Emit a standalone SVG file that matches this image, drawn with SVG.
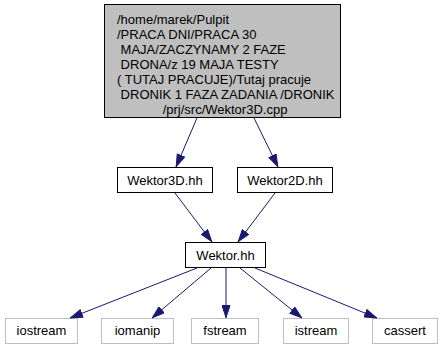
<svg xmlns="http://www.w3.org/2000/svg" width="443" height="349" viewBox="0 0 443 349">
  <style>
    text { font-family: "Liberation Sans", Arial, sans-serif; font-size: 13px; fill: #000; }
    .c { text-anchor: middle; }
    .main rect { fill: #bfbfbf; stroke: #000; stroke-width: 1; }
    .hdr rect { fill: #fff; stroke: #000; stroke-width: 1; }
    .sys rect { fill: #fff; stroke: #bfbfbf; stroke-width: 1; }
    .edge { stroke: #191970; stroke-width: 1; fill: none; marker-end: url(#arrow); }
  </style>
  <defs>
    <!-- filled include-arrow head -->
    <marker id="arrow" viewBox="0 0 13 9" refX="13" refY="4.5" markerWidth="13" markerHeight="9" orient="auto" markerUnits="userSpaceOnUse">
      <path d="M0.5,0.5 L12.5,4.5 L0.5,8.5 Z" fill="#191970" stroke="#191970"/>
    </marker>
  </defs>
  <rect width="443" height="349" fill="#fff"/>

  <!-- source file -->
  <g id="node-wektor3d-cpp" class="main">
    <rect x="104.5" y="4.5" width="236" height="113"/>
    <text x="117" y="24" xml:space="preserve">/home/marek/Pulpit</text>
    <text x="117" y="39" xml:space="preserve">/PRACA DNI/PRACA 30</text>
    <text x="117" y="54" xml:space="preserve"> MAJA/ZACZYNAMY 2 FAZE</text>
    <text x="117" y="69" xml:space="preserve"> DRONA/z 19 MAJA TESTY</text>
    <text x="117" y="84" xml:space="preserve">( TUTAJ PRACUJE)/Tutaj pracuje</text>
    <text x="117" y="99" xml:space="preserve"> DRONIK 1 FAZA ZADANIA /DRONIK</text>
    <text x="225" y="114" class="c">/prj/src/Wektor3D.cpp</text>
  </g>

  <!-- project headers -->
  <g id="node-wektor3d-hh" class="hdr">
    <rect x="117.5" y="167.5" width="95" height="25"/>
    <text x="165" y="185" class="c">Wektor3D.hh</text>
  </g>
  <g id="node-wektor2d-hh" class="hdr">
    <rect x="237.5" y="167.5" width="95" height="25"/>
    <text x="285" y="185" class="c">Wektor2D.hh</text>
  </g>
  <g id="node-wektor-hh" class="hdr">
    <rect x="185.5" y="242.5" width="80" height="25"/>
    <text x="225.5" y="260" class="c">Wektor.hh</text>
  </g>

  <!-- system headers -->
  <g id="node-iostream" class="sys">
    <rect x="5.5" y="318.5" width="72" height="25"/>
    <text x="41.5" y="335" class="c">iostream</text>
  </g>
  <g id="node-iomanip" class="sys">
    <rect x="101.5" y="318.5" width="72" height="25"/>
    <text x="137.5" y="335" class="c">iomanip</text>
  </g>
  <g id="node-fstream" class="sys">
    <rect x="191.5" y="318.5" width="67" height="25"/>
    <text x="225" y="335" class="c">fstream</text>
  </g>
  <g id="node-istream" class="sys">
    <rect x="283.5" y="318.5" width="65" height="25"/>
    <text x="316" y="335" class="c">istream</text>
  </g>
  <g id="node-cassert" class="sys">
    <rect x="372.5" y="318.5" width="65" height="25"/>
    <text x="405" y="335" class="c">cassert</text>
  </g>

  <!-- include edges -->
  <g id="edges">
    <line class="edge" x1="197" y1="118" x2="176" y2="167"/>
    <line class="edge" x1="254" y1="118" x2="278" y2="167"/>
    <line class="edge" x1="175" y1="193" x2="212" y2="242"/>
    <line class="edge" x1="275" y1="193" x2="238" y2="242"/>
    <line class="edge" x1="197" y1="268" x2="70" y2="318"/>
    <line class="edge" x1="211" y1="268" x2="152" y2="318"/>
    <line class="edge" x1="226" y1="268" x2="226" y2="318"/>
    <line class="edge" x1="240" y1="268" x2="302" y2="318"/>
    <line class="edge" x1="255" y1="268" x2="377" y2="318"/>
  </g>
</svg>
